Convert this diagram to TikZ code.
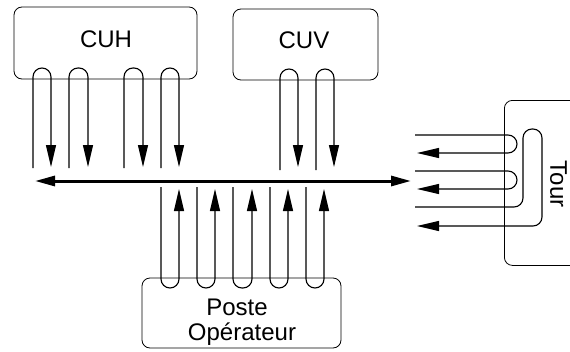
\documentclass[tikz,border=0pt]{standalone}
\usepackage{fontspec}
\setmainfont{Liberation Sans}
\usetikzlibrary{arrows.meta}
\begin{document}
\begin{tikzpicture}[x=1pt,y=-1pt,
  box/.style={draw, rounded corners=8pt, line width=0.8pt, inner sep=0pt},
  lbl/.style={font=\fontsize{24}{27}\selectfont, inner sep=0pt, anchor=base},
  sig/.style={line width=1.1pt, rounded corners=9pt, -{Triangle[length=22pt,width=10pt]}},
  bus/.style={line width=3pt, {Triangle[length=20pt,width=10pt]}-{Triangle[length=20pt,width=10pt]}}
]
\path[use as bounding box] (0,0) rectangle (570,351);
\clip (0,0) rectangle (570,351);

% boxes
\node[box, minimum width=183pt, minimum height=72pt] (cuh) at (105.5,43) {};
\node[lbl] (cuhtxt) at (106,47) {CUH};
\node[box, minimum width=145pt, minimum height=71pt] (cuv) at (305.5,44.5) {};
\node[lbl] (cuvtxt) at (304,48) {CUV};
\node[box, minimum width=199pt, minimum height=70pt] (poste) at (241.5,313) {};
\node[lbl] (postetxt) at (237,315) {Poste};
\node[lbl] (opertxt) at (242,340) {Opérateur};
\node[box, minimum width=110pt, minimum height=165pt, anchor=north west] (tour) at (504,100) {};
\node[lbl, rotate=-90, anchor=center] (tourtxt) at (558.5,184) {Tour};

% bus
\coordinate (busL) at (35,181);
\coordinate (busR) at (411,181);
\draw[bus] (busL) -- (busR);

% CUH loops
\foreach \a/\b in {33/51, 69/88, 124/143, 161/179}
  \draw[sig] (\a,168) -- (\a,68) -- (\b,68) -- (\b,167);

% CUV loops
\foreach \a/\b in {280/298, 316/334}
  \draw[sig] (\a,170) -- (\a,69) -- (\b,69) -- (\b,167);

% Poste loops
\foreach \a/\b in {161/179, 197/215, 233/252, 270/288, 306/324}
  \draw[sig] (\a,187) -- (\a,288) -- (\b,288) -- (\b,189);

% Tour loops
\foreach \t/\u in {135/153, 171/189}
  \draw[sig] (415,\t) -- (517,\t) -- (517,\u) -- (417,\u);
\draw[sig] (415,207) -- (523,207) -- (523,129) -- (542,129) -- (542,226) -- (417,226);
\end{tikzpicture}
\end{document}
